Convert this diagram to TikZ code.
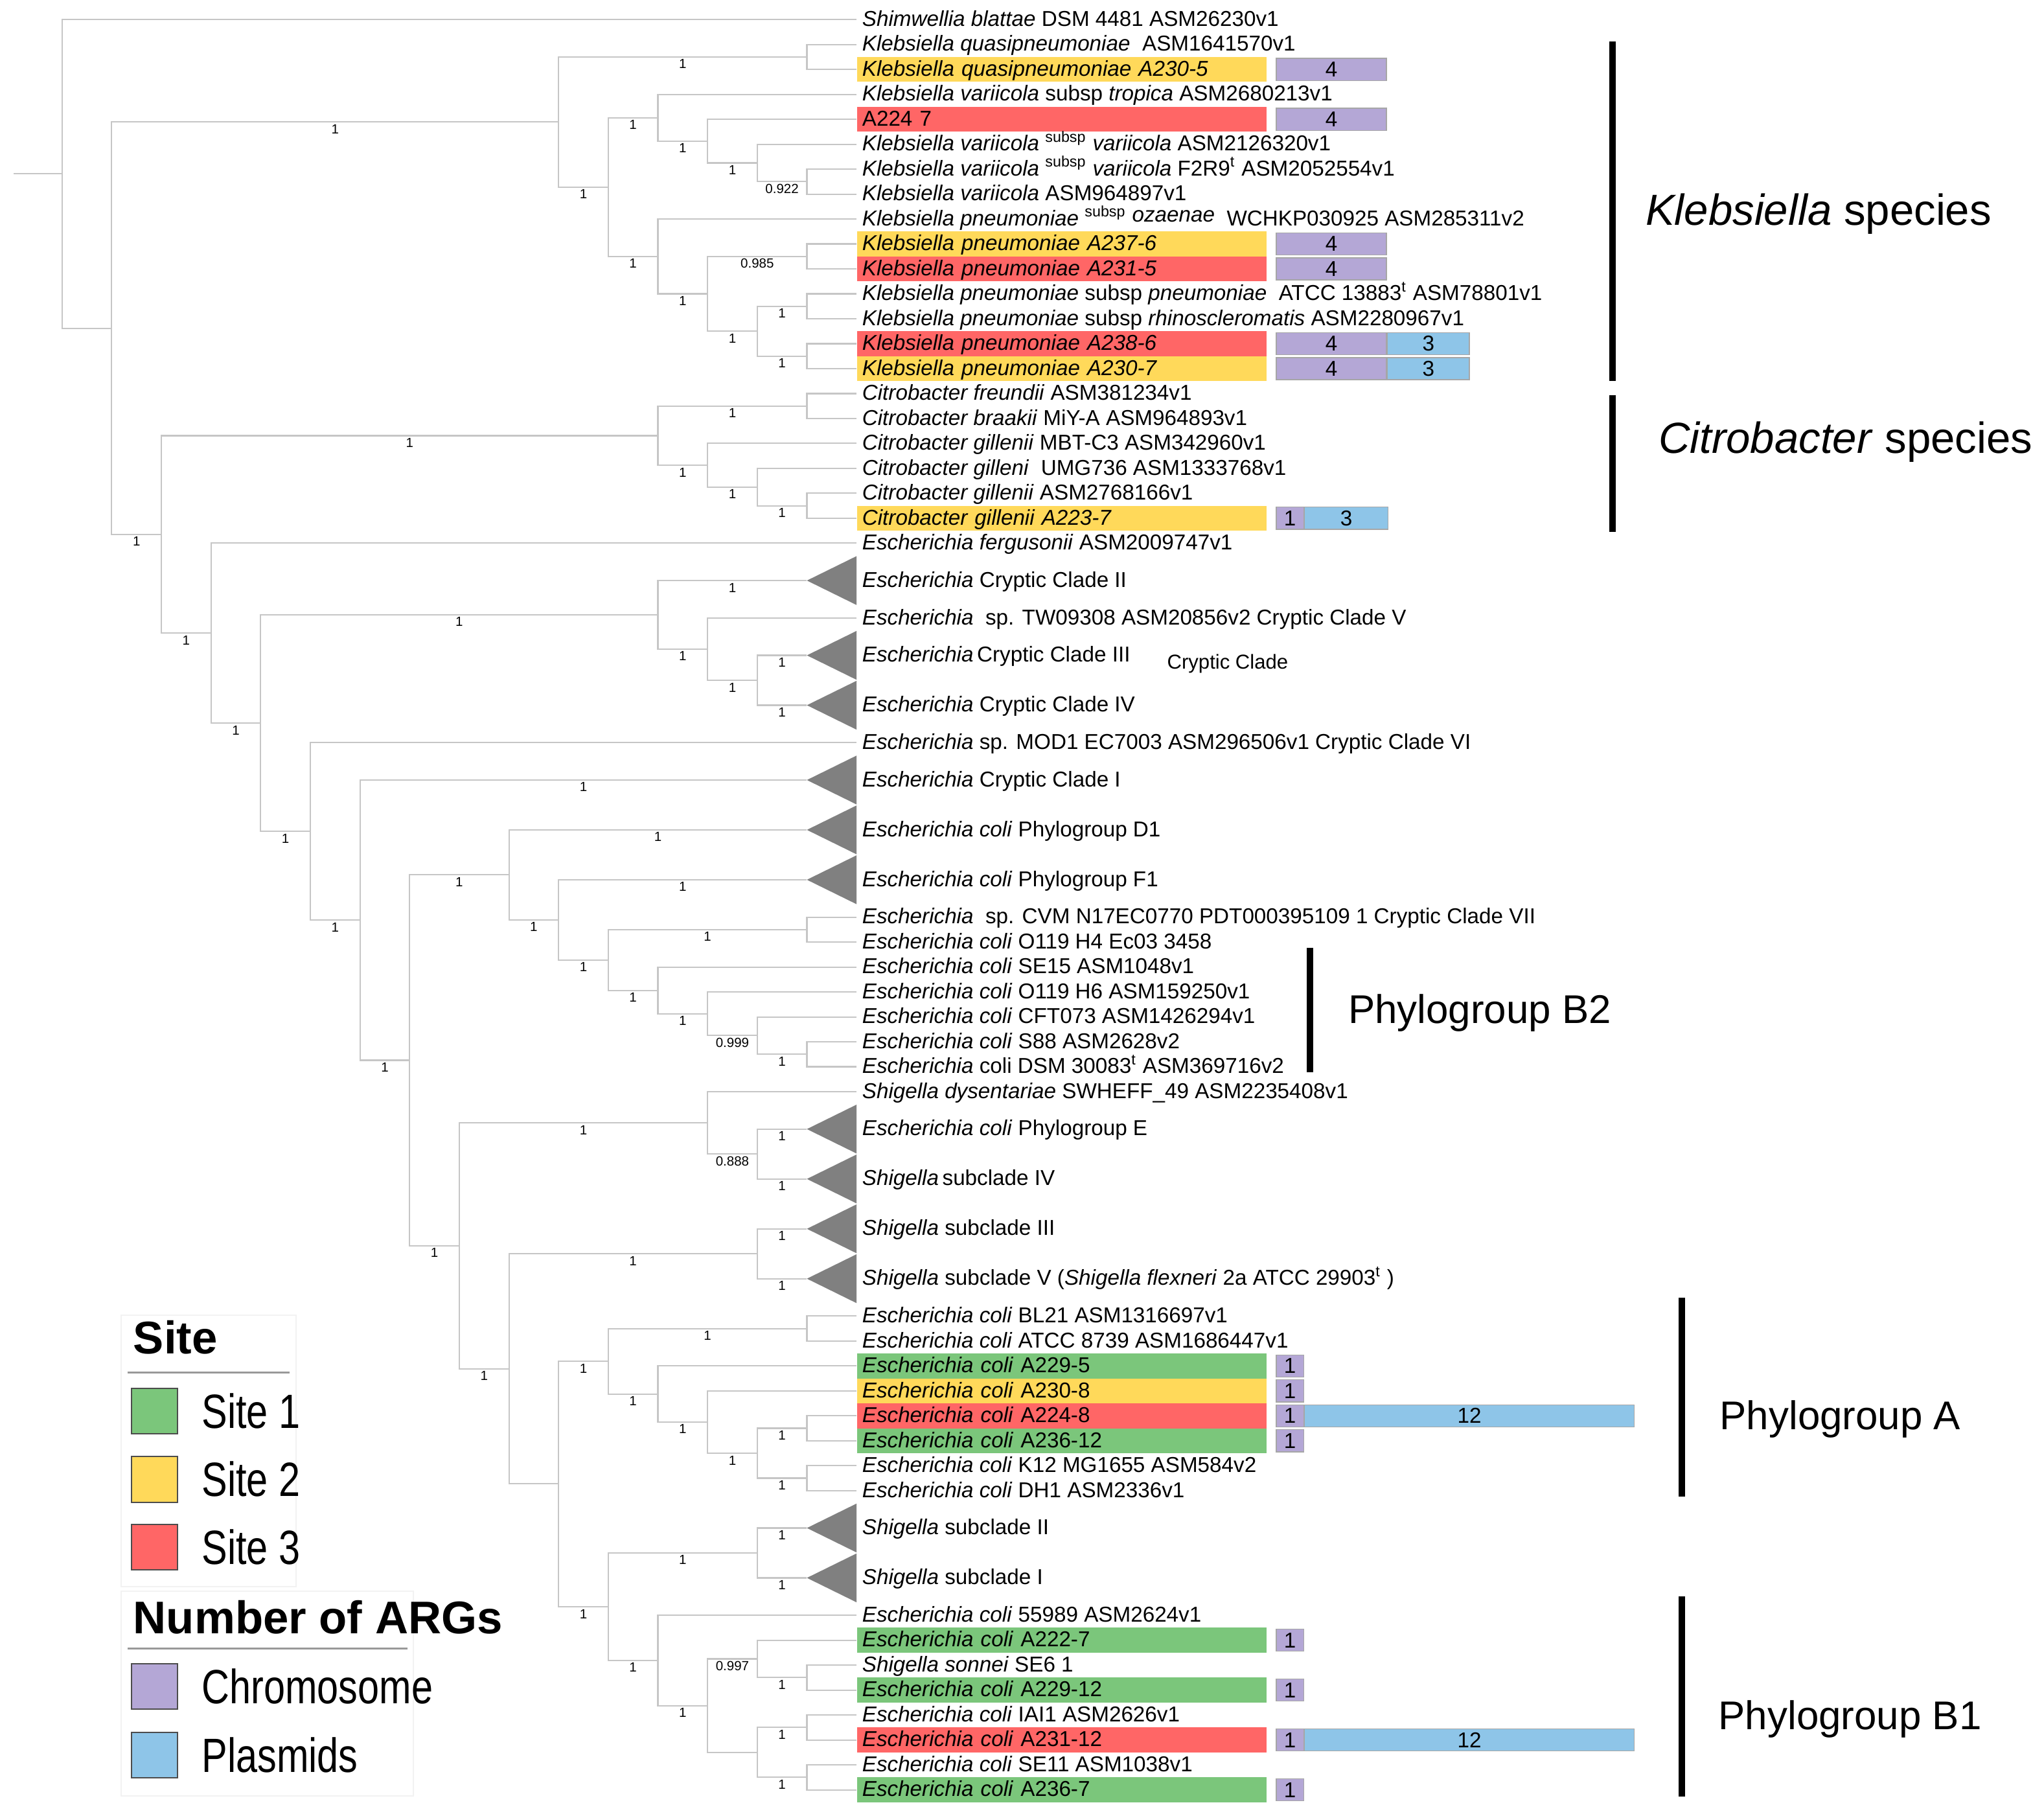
\documentclass[tikz,border=0pt]{standalone}
\usepackage{fontspec}
\setmainfont{Liberation Sans}
\usetikzlibrary{positioning}
\definecolor{siteonec}{HTML}{7BC67B}
\definecolor{sitetwoc}{HTML}{FFD95A}
\definecolor{sitethreec}{HTML}{FF6666}
\definecolor{chromc}{HTML}{B4A7D6}
\definecolor{plasc}{HTML}{8EC5E8}
\newcommand{\clade}[2]{
  \fill[black!50] (16,#2) -- ++(1,-0.98) -- ++(0,1.96) -- cycle;
  \coordinate (#1) at (16,#2);
}
\newcommand{\narrow}[1]{\scalebox{0.8}[1]{#1}}
\tikzset{
  branch/.style={draw=gray!45, line width=0.6pt},
  supp/.style={pos=0.75, anchor=north, inner sep=0.8pt, font=\fontsize{5.8}{6}\selectfont},
  leaf/.style={anchor=west, inner xsep=0.08cm, inner ysep=0pt, minimum height=0.3826cm,
    text height=7.4pt, text depth=1.6pt, font=\fontsize{9.4}{11}\selectfont},
  site/.style={leaf, fill=#1, text width=6.12cm},
  argbox/.style={draw=gray!70, line width=0.4pt, minimum height=0.34cm, inner sep=0pt,
    font=\fontsize{9.4}{11}\selectfont},
  chrom/.style={argbox, fill=chromc},
  plas/.style={argbox, fill=plasc},
  groupbar/.style={line width=0.1cm},
  grouplabel/.style={anchor=west, inner sep=0pt, font=\fontsize{#1}{#1}\selectfont},
  legframe/.style={draw=gray!10, line width=0.6pt},
  legrule/.style={draw=gray!80, line width=0.7pt},
  leghead/.style={anchor=west, inner sep=0pt, font=\fontsize{20}{24}\selectfont\bfseries},
  legkey/.style={draw=black!70, line width=0.6pt, minimum size=0.7cm, inner sep=0pt},
  legtext/.style={right=0.36cm of #1, inner sep=0pt, font=\fontsize{21}{24}\selectfont}
}

\begin{document}
\begin{tikzpicture}[x=0.02cm, y=-0.02cm]
\useasboundingbox (0,0) rectangle (1568,1393);

\begin{scope}[shift={(0.19cm,-0.3cm)}, x=0.762cm, y=-0.3826cm]
	\coordinate (root) at (0.03,6.19);
	\coordinate (R) at (1,6.19);
	\coordinate (En) at (2,12.38);
	\coordinate (K) at (11,4.11);
	\coordinate (Kq) at (16,1.5);
	\coordinate (K2) at (12,6.72);
	\coordinate (Kv) at (13,3.94);
	\coordinate (Kv2) at (14,4.875);
	\coordinate (Kv3) at (15,5.75);
	\coordinate (Kv4) at (16,6.5);
	\coordinate (Kp) at (13,9.5);
	\coordinate (Kp2) at (14,11);
	\coordinate (Kp3) at (16,9.5);
	\coordinate (Kp4) at (15,12.5);
	\coordinate (Kp5) at (16,11.5);
	\coordinate (Kp6) at (16,13.5);
	\coordinate (C1) at (3,20.65);
	\coordinate (Ci) at (13,16.69);
	\coordinate (Ci2) at (16,15.5);
	\coordinate (Ci3) at (14,17.875);
	\coordinate (Ci4) at (15,18.75);
	\coordinate (Ci5) at (16,19.5);
	\coordinate (C2) at (4,24.61);
	\coordinate (E1) at (5,28.22);
	\coordinate (Ecc) at (13,23.875);
	\coordinate (Ecc2) at (14,25.25);
	\coordinate (Ecc3) at (15,26.5);
	\coordinate (E2) at (6,32.56);
	\coordinate (E3) at (7,36.12);
	\coordinate (E4) at (8,41.74);
	\coordinate (E5) at (10,34.305);
	\coordinate (E7) at (11,36.11);
	\coordinate (E8) at (12,37.72);
	\coordinate (B2a) at (16,36.5);
	\coordinate (B2) at (13,38.94);
	\coordinate (B2b) at (14,39.875);
	\coordinate (B2c) at (15,40.75);
	\coordinate (B2d) at (16,41.5);
	\coordinate (E6) at (9,49.18);
	\coordinate (Es) at (14,44.25);
	\coordinate (Es2) at (15,45.5);
	\coordinate (E9) at (10,54.12);
	\coordinate (Sh) at (15,49.5);
	\coordinate (E10) at (11,58.73);
	\coordinate (A1) at (12,53.81);
	\coordinate (A2) at (16,52.5);
	\coordinate (A3) at (13,55.125);
	\coordinate (A4) at (14,56.25);
	\coordinate (A5) at (15,57.5);
	\coordinate (A6) at (16,56.5);
	\coordinate (A7) at (16,58.5);
	\coordinate (B1g) at (12,63.66);
	\coordinate (Sh2) at (15,61.5);
	\coordinate (B1) at (13,65.81);
	\coordinate (B1b) at (14,67.625);
	\coordinate (B1c) at (15,65.75);
	\coordinate (B1e) at (16,66.5);
	\coordinate (B1d) at (15,69.5);
	\coordinate (B1f) at (16,68.5);
	\coordinate (B1h) at (16,70.5);

	\clade{c23}{22.5}
	\clade{c25}{25.5}
	\clade{c26}{27.5}
	\clade{c28}{30.5}
	\clade{c29}{32.5}
	\clade{c30}{34.5}
	\clade{c39}{44.5}
	\clade{c40}{46.5}
	\clade{c41}{48.5}
	\clade{c42}{50.5}
	\clade{c51}{60.5}
	\clade{c52}{62.5}

	\node[leaf] (t1) at (17,0) {\textit{Shimwellia blattae} DSM 4481 ASM26230v1};
	\node[leaf] (t2) at (17,1) {\textit{Klebsiella quasipneumoniae}\ \ ASM1641570v1};
	\node[site=sitetwoc] (t3) at (17,2) {\textit{Klebsiella quasipneumoniae A230-5}};
	\node[leaf] (t4) at (17,3) {\textit{Klebsiella variicola} subsp \textit{tropica} ASM2680213v1};
	\node[site=sitethreec] (t5) at (17,4) {A224 7};
	\node[leaf] (t6) at (17,5) {\textit{Klebsiella variicola} \textsuperscript{subsp} \textit{variicola} ASM2126320v1};
	\node[leaf] (t7) at (17,6) {\textit{Klebsiella variicola} \textsuperscript{subsp} \textit{variicola} F2R9\textsuperscript{t} ASM2052554v1};
	\node[leaf] (t8) at (17,7) {\textit{Klebsiella variicola} ASM964897v1};
	\node[leaf] (t9) at (17,8) {\textit{Klebsiella pneumoniae} \textsuperscript{subsp} \raisebox{0.35ex}{\textit{ozaenae}}\ \ WCHKP030925 ASM285311v2};
	\node[site=sitetwoc] (t10) at (17,9) {\textit{Klebsiella pneumoniae A237-6}};
	\node[site=sitethreec] (t11) at (17,10) {\textit{Klebsiella pneumoniae A231-5}};
	\node[leaf] (t12) at (17,11) {\textit{Klebsiella pneumoniae} subsp \textit{pneumoniae}\ \ ATCC 13883\textsuperscript{t} ASM78801v1};
	\node[leaf] (t13) at (17,12) {\textit{Klebsiella pneumoniae} subsp \textit{rhinoscleromatis} ASM2280967v1};
	\node[site=sitethreec] (t14) at (17,13) {\textit{Klebsiella pneumoniae A238-6}};
	\node[site=sitetwoc] (t15) at (17,14) {\textit{Klebsiella pneumoniae A230-7}};
	\node[leaf] (t16) at (17,15) {\textit{Citrobacter freundii} ASM381234v1};
	\node[leaf] (t17) at (17,16) {\textit{Citrobacter braakii} MiY-A ASM964893v1};
	\node[leaf] (t18) at (17,17) {\textit{Citrobacter gillenii} MBT-C3 ASM342960v1};
	\node[leaf] (t19) at (17,18) {\textit{Citrobacter gilleni}\ \ UMG736 ASM1333768v1};
	\node[leaf] (t20) at (17,19) {\textit{Citrobacter gillenii} ASM2768166v1};
	\node[site=sitetwoc] (t21) at (17,20) {\textit{Citrobacter gillenii A223-7}};
	\node[leaf] (t22) at (17,21) {\textit{Escherichia fergusonii} ASM2009747v1};
	\node[leaf] (t23) at (17,22.5) {\textit{Escherichia} Cryptic Clade II};
	\node[leaf] (t24) at (17,24) {\textit{Escherichia}\ \ sp. TW09308 ASM20856v2 Cryptic Clade V};
	\node[leaf] (t25) at (17,25.5) {\textit{Escherichia}\,Cryptic Clade III};
	\node[leaf] (t26) at (17,27.5) {\textit{Escherichia} Cryptic Clade IV};
	\node[leaf] (t27) at (17,29) {\textit{Escherichia} sp. MOD1 EC7003 ASM296506v1 Cryptic Clade VI};
	\node[leaf] (t28) at (17,30.5) {\textit{Escherichia} Cryptic Clade I};
	\node[leaf] (t29) at (17,32.5) {\textit{Escherichia coli} Phylogroup D1};
	\node[leaf] (t30) at (17,34.5) {\textit{Escherichia coli} Phylogroup F1};
	\node[leaf] (t31) at (17,36) {\textit{Escherichia}\ \ sp. CVM N17EC0770 PDT000395109 1 Cryptic Clade VII};
	\node[leaf] (t32) at (17,37) {\textit{Escherichia coli} O119 H4 Ec03 3458};
	\node[leaf] (t33) at (17,38) {\textit{Escherichia coli} SE15 ASM1048v1};
	\node[leaf] (t34) at (17,39) {\textit{Escherichia coli} O119 H6 ASM159250v1};
	\node[leaf] (t35) at (17,40) {\textit{Escherichia coli} CFT073 ASM1426294v1};
	\node[leaf] (t36) at (17,41) {\textit{Escherichia coli} S88 ASM2628v2};
	\node[leaf] (t37) at (17,42) {\textit{Escherichia} coli DSM 30083\textsuperscript{t} ASM369716v2};
	\node[leaf] (t38) at (17,43) {\textit{Shigella dysentariae} SWHEFF\_49 ASM2235408v1};
	\node[leaf] (t39) at (17,44.5) {\textit{Escherichia coli} Phylogroup E};
	\node[leaf] (t40) at (17,46.5) {\textit{Shigella}\,subclade IV};
	\node[leaf] (t41) at (17,48.5) {\textit{Shigella} subclade III};
	\node[leaf] (t42) at (17,50.5) {\textit{Shigella} subclade V (\textit{Shigella flexneri} 2a ATCC 29903\textsuperscript{t} )};
	\node[leaf] (t43) at (17,52) {\textit{Escherichia coli} BL21 ASM1316697v1};
	\node[leaf] (t44) at (17,53) {\textit{Escherichia coli} ATCC 8739 ASM1686447v1};
	\node[site=siteonec] (t45) at (17,54) {\textit{Escherichia coli} A229-5};
	\node[site=sitetwoc] (t46) at (17,55) {\textit{Escherichia coli} A230-8};
	\node[site=sitethreec] (t47) at (17,56) {\textit{Escherichia coli} A224-8};
	\node[site=siteonec] (t48) at (17,57) {\textit{Escherichia coli} A236-12};
	\node[leaf] (t49) at (17,58) {\textit{Escherichia coli} K12 MG1655 ASM584v2};
	\node[leaf] (t50) at (17,59) {\textit{Escherichia coli} DH1 ASM2336v1};
	\node[leaf] (t51) at (17,60.5) {\textit{Shigella} subclade II};
	\node[leaf] (t52) at (17,62.5) {\textit{Shigella} subclade I};
	\node[leaf] (t53) at (17,64) {\textit{Escherichia coli} 55989 ASM2624v1};
	\node[site=siteonec] (t54) at (17,65) {\textit{Escherichia coli} A222-7};
	\node[leaf] (t55) at (17,66) {\textit{Shigella sonnei} SE6 1};
	\node[site=siteonec] (t56) at (17,67) {\textit{Escherichia coli} A229-12};
	\node[leaf] (t57) at (17,68) {\textit{Escherichia coli} IAI1 ASM2626v1};
	\node[site=sitethreec] (t58) at (17,69) {\textit{Escherichia coli} A231-12};
	\node[leaf] (t59) at (17,70) {\textit{Escherichia coli} SE11 ASM1038v1};
	\node[site=siteonec] (t60) at (17,71) {\textit{Escherichia coli} A236-7};

	\draw[branch] (root) -- (R);
	\draw[branch] (R) |- (t1.west);
	\draw[branch] (R) |- (En);
	\draw[branch] (En) |- node[supp]{1} (K);
	\draw[branch] (En) |- node[supp]{1} (C1);
	\draw[branch] (K) |- node[supp]{1} (Kq);
	\draw[branch] (K) |- node[supp]{1} (K2);
	\draw[branch] (Kq) |- (t2.west);
	\draw[branch] (Kq) |- (t3.west);
	\draw[branch] (K2) |- node[supp]{1} (Kv);
	\draw[branch] (K2) |- node[supp]{1} (Kp);
	\draw[branch] (Kv) |- (t4.west);
	\draw[branch] (Kv) |- node[supp]{1} (Kv2);
	\draw[branch] (Kv2) |- (t5.west);
	\draw[branch] (Kv2) |- node[supp]{1} (Kv3);
	\draw[branch] (Kv3) |- (t6.west);
	\draw[branch] (Kv3) |- node[supp]{0.922} (Kv4);
	\draw[branch] (Kv4) |- (t7.west);
	\draw[branch] (Kv4) |- (t8.west);
	\draw[branch] (Kp) |- (t9.west);
	\draw[branch] (Kp) |- node[supp]{1} (Kp2);
	\draw[branch] (Kp2) |- node[supp]{0.985} (Kp3);
	\draw[branch] (Kp2) |- node[supp]{1} (Kp4);
	\draw[branch] (Kp3) |- (t10.west);
	\draw[branch] (Kp3) |- (t11.west);
	\draw[branch] (Kp4) |- node[supp]{1} (Kp5);
	\draw[branch] (Kp4) |- node[supp]{1} (Kp6);
	\draw[branch] (Kp5) |- (t12.west);
	\draw[branch] (Kp5) |- (t13.west);
	\draw[branch] (Kp6) |- (t14.west);
	\draw[branch] (Kp6) |- (t15.west);
	\draw[branch] (C1) |- node[supp]{1} (Ci);
	\draw[branch] (C1) |- node[supp]{1} (C2);
	\draw[branch] (Ci) |- node[supp]{1} (Ci2);
	\draw[branch] (Ci) |- node[supp]{1} (Ci3);
	\draw[branch] (Ci2) |- (t16.west);
	\draw[branch] (Ci2) |- (t17.west);
	\draw[branch] (Ci3) |- (t18.west);
	\draw[branch] (Ci3) |- node[supp]{1} (Ci4);
	\draw[branch] (Ci4) |- (t19.west);
	\draw[branch] (Ci4) |- node[supp]{1} (Ci5);
	\draw[branch] (Ci5) |- (t20.west);
	\draw[branch] (Ci5) |- (t21.west);
	\draw[branch] (C2) |- (t22.west);
	\draw[branch] (C2) |- node[supp]{1} (E1);
	\draw[branch] (E1) |- node[supp]{1} (Ecc);
	\draw[branch] (E1) |- node[supp]{1} (E2);
	\draw[branch] (Ecc) |- node[supp]{1} (c23);
	\draw[branch] (Ecc) |- node[supp]{1} (Ecc2);
	\draw[branch] (Ecc2) |- (t24.west);
	\draw[branch] (Ecc2) |- node[supp]{1} (Ecc3);
	\draw[branch] (Ecc3) |- node[supp]{1} (c25);
	\draw[branch] (Ecc3) |- node[supp]{1} (c26);
	\draw[branch] (E2) |- (t27.west);
	\draw[branch] (E2) |- node[supp]{1} (E3);
	\draw[branch] (E3) |- node[supp]{1} (c28);
	\draw[branch] (E3) |- node[supp]{1} (E4);
	\draw[branch] (E4) |- node[supp]{1} (E5);
	\draw[branch] (E4) |- node[supp]{1} (E6);
	\draw[branch] (E5) |- node[supp]{1} (c29);
	\draw[branch] (E5) |- node[supp]{1} (E7);
	\draw[branch] (E7) |- node[supp]{1} (c30);
	\draw[branch] (E7) |- node[supp]{1} (E8);
	\draw[branch] (E8) |- node[supp]{1} (B2a);
	\draw[branch] (E8) |- node[supp]{1} (B2);
	\draw[branch] (B2a) |- (t31.west);
	\draw[branch] (B2a) |- (t32.west);
	\draw[branch] (B2) |- (t33.west);
	\draw[branch] (B2) |- node[supp]{1} (B2b);
	\draw[branch] (B2b) |- (t34.west);
	\draw[branch] (B2b) |- node[supp]{0.999} (B2c);
	\draw[branch] (B2c) |- (t35.west);
	\draw[branch] (B2c) |- node[supp]{1} (B2d);
	\draw[branch] (B2d) |- (t36.west);
	\draw[branch] (B2d) |- (t37.west);
	\draw[branch] (E6) |- node[supp]{1} (Es);
	\draw[branch] (E6) |- node[supp]{1} (E9);
	\draw[branch] (Es) |- (t38.west);
	\draw[branch] (Es) |- node[supp]{0.888} (Es2);
	\draw[branch] (Es2) |- node[supp]{1} (c39);
	\draw[branch] (Es2) |- node[supp]{1} (c40);
	\draw[branch] (E9) |- node[supp]{1} (Sh);
	\draw[branch] (E9) |- (E10);
	\draw[branch] (Sh) |- node[supp]{1} (c41);
	\draw[branch] (Sh) |- node[supp]{1} (c42);
	\draw[branch] (E10) |- node[supp]{1} (A1);
	\draw[branch] (E10) |- node[supp]{1} (B1g);
	\draw[branch] (A1) |- node[supp]{1} (A2);
	\draw[branch] (A1) |- node[supp]{1} (A3);
	\draw[branch] (A2) |- (t43.west);
	\draw[branch] (A2) |- (t44.west);
	\draw[branch] (A3) |- (t45.west);
	\draw[branch] (A3) |- node[supp]{1} (A4);
	\draw[branch] (A4) |- (t46.west);
	\draw[branch] (A4) |- node[supp]{1} (A5);
	\draw[branch] (A5) |- node[supp]{1} (A6);
	\draw[branch] (A5) |- node[supp]{1} (A7);
	\draw[branch] (A6) |- (t47.west);
	\draw[branch] (A6) |- (t48.west);
	\draw[branch] (A7) |- (t49.west);
	\draw[branch] (A7) |- (t50.west);
	\draw[branch] (B1g) |- node[supp]{1} (Sh2);
	\draw[branch] (B1g) |- node[supp]{1} (B1);
	\draw[branch] (Sh2) |- node[supp]{1} (c51);
	\draw[branch] (Sh2) |- node[supp]{1} (c52);
	\draw[branch] (B1) |- (t53.west);
	\draw[branch] (B1) |- node[supp]{1} (B1b);
	\draw[branch] (B1b) |- node[supp]{0.997} (B1c);
	\draw[branch] (B1b) |- (B1d);
	\draw[branch] (B1c) |- (t54.west);
	\draw[branch] (B1c) |- node[supp]{1} (B1e);
	\draw[branch] (B1e) |- (t55.west);
	\draw[branch] (B1e) |- (t56.west);
	\draw[branch] (B1d) |- node[supp]{1} (B1f);
	\draw[branch] (B1d) |- node[supp]{1} (B1h);
	\draw[branch] (B1f) |- (t57.west);
	\draw[branch] (B1f) |- (t58.west);
	\draw[branch] (B1h) |- (t59.west);
	\draw[branch] (B1h) |- (t60.west);

	\node[chrom, minimum width=1.69cm, right=0.14cm of t3] (g3) {4};
	\node[chrom, minimum width=1.69cm, right=0.14cm of t5] (g5) {4};
	\node[chrom, minimum width=1.69cm, right=0.14cm of t10] (g10) {4};
	\node[chrom, minimum width=1.69cm, right=0.14cm of t11] (g11) {4};
	\node[chrom, minimum width=1.69cm, right=0.14cm of t14] (g14) {4};
	\node[plas, minimum width=1.26cm, right=0pt of g14] (p14) {3};
	\node[chrom, minimum width=1.69cm, right=0.14cm of t15] (g15) {4};
	\node[plas, minimum width=1.26cm, right=0pt of g15] (p15) {3};
	\node[chrom, minimum width=0.42cm, right=0.14cm of t21] (g21) {1};
	\node[plas, minimum width=1.28cm, right=0pt of g21] (p21) {3};
	\node[chrom, minimum width=0.42cm, right=0.14cm of t45] (g45) {1};
	\node[chrom, minimum width=0.42cm, right=0.14cm of t46] (g46) {1};
	\node[chrom, minimum width=0.42cm, right=0.14cm of t47] (g47) {1};
	\node[plas, minimum width=5.06cm, right=0pt of g47] (p47) {12};
	\node[chrom, minimum width=0.42cm, right=0.14cm of t48] (g48) {1};
	\node[chrom, minimum width=0.42cm, right=0.14cm of t54] (g54) {1};
	\node[chrom, minimum width=0.42cm, right=0.14cm of t56] (g56) {1};
	\node[chrom, minimum width=0.42cm, right=0.14cm of t58] (g58) {1};
	\node[plas, minimum width=5.06cm, right=0pt of g58] (p58) {12};
	\node[chrom, minimum width=0.42cm, right=0.14cm of t60] (g60) {1};
\end{scope}

\node[leaf, font=\fontsize{8.8}{10}\selectfont] (cclab) at (891,508) {Cryptic Clade};

\draw[groupbar] (1237,32) -- (1237,292);
\node[grouplabel=19] (klab) at (1262,164) {\textit{Klebsiella} species};
\draw[groupbar] (1237,303) -- (1237,408);
\node[grouplabel=19] (clab) at (1272,339) {\textit{Citrobacter} species};
\draw[groupbar] (1004.8,727) -- (1004.8,822.6);
\node[grouplabel=17.5] (b2lab) at (1034,777) {Phylogroup B2};
\draw[groupbar] (1290,995.4) -- (1290,1148);
\node[grouplabel=17.5] (alab) at (1319,1088.5) {Phylogroup A};
\draw[groupbar] (1290,1224.7) -- (1290,1378);
\node[grouplabel=17.5] (b1lab) at (1318,1318.5) {Phylogroup B1};

\draw[legframe] (93,1009) rectangle (227,1217);
\node[leghead] (sitehead) at (102,1026) {Site};
\draw[legrule] (97.7,1052.8) -- (222.3,1052.8);
\node[legkey, fill=siteonec] (k1) at (118.5,1082.5) {};
\node[legtext=k1] (l1) {\narrow{Site 1}};
\node[legkey, fill=sitetwoc] (k2) at (118.5,1134.8) {};
\node[legtext=k2] (l2) {\narrow{Site 2}};
\node[legkey, fill=sitethreec] (k3) at (118.5,1186.8) {};
\node[legtext=k3] (l3) {\narrow{Site 3}};

\draw[legframe] (93,1220.7) rectangle (317,1377.7);
\node[leghead] (arghead) at (102,1240.7) {Number of ARGs};
\draw[legrule] (98,1264.5) -- (312.7,1264.5);
\node[legkey, fill=chromc] (k4) at (118.5,1293.7) {};
\node[legtext=k4] (l4) {\narrow{Chromosome}};
\node[legkey, fill=plasc] (k5) at (118.5,1346.4) {};
\node[legtext=k5] (l5) {\narrow{Plasmids}};
\end{tikzpicture}
\end{document}
